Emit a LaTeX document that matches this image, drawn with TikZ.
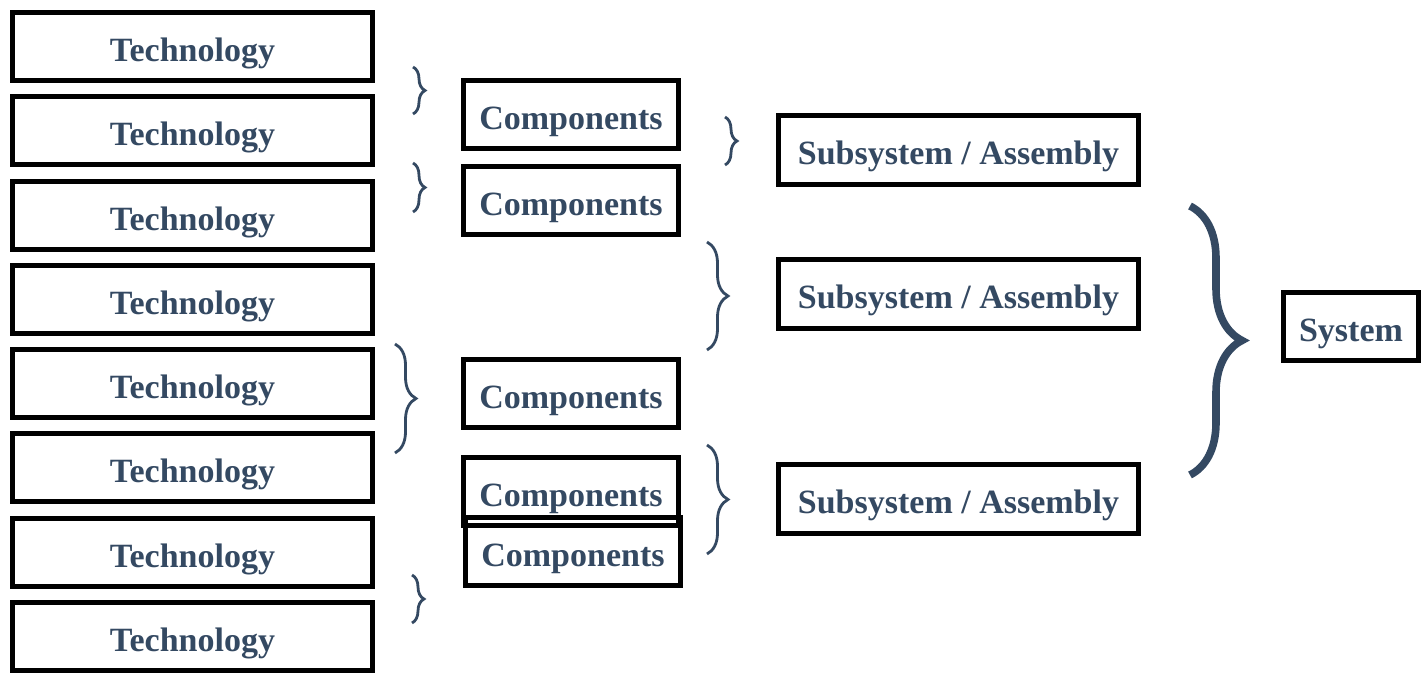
\documentclass[tikz,border=0pt]{standalone}
\usepackage{fontspec}
\setmainfont{Liberation Serif}
\usetikzlibrary{decorations.pathreplacing}
\definecolor{txt}{RGB}{52,73,98}
\begin{document}
\begin{tikzpicture}[x=0.5pt,y=-0.5pt,
  box/.style={draw=black,line width=2.5pt,inner sep=0pt,text height=17pt,text depth=2pt,font=\fontsize{17}{20}\selectfont\bfseries,text=txt},
  tech/.style={box,minimum width=180pt,minimum height=34pt},
  comp/.style={box,minimum width=107.5pt,minimum height=34pt},
  sub/.style={box,minimum width=180pt,minimum height=34.5pt},
  sys/.style={box,minimum width=67.5pt,minimum height=34pt},
  brc/.style={draw=txt,line width=1.4pt,decorate,decoration={brace,amplitude=#1,aspect=0.5}},
]
\useasboundingbox (0,0) rectangle (1421,673);
\foreach \i in {0,...,7}{
  \node[tech] (t\i) at (192.5,{46.5+84.3*\i}) {Technology};
}
\node[comp] (c1) at (571,114.5) {Components};
\node[comp] (c2) at (571,200.5) {Components};
\node[comp] (c3) at (571,394) {Components};
\node[comp] (c5) at (573,551.5) {Components};
\node[comp] (c4) at (571,491.5) {Components};
\node[sub] (s1) at (958.5,150) {Subsystem / Assembly};
\node[sub] (s2) at (958.5,294) {Subsystem / Assembly};
\node[sub] (s3) at (958.5,499) {Subsystem / Assembly};
\node[sys] (sy) at (1351,326.5) {System};
\draw[brc=6pt] (413,67) -- (413,114);
\draw[brc=6pt] (413,163) -- (413,212);
\draw[brc=6pt] (725,117) -- (725,165);
\draw[brc=10.5pt] (707,242) -- (707,350);
\draw[brc=10.5pt] (395,344) -- (395,453);
\draw[brc=10.5pt] (707,445) -- (707,554);
\draw[brc=6pt] (412,575) -- (412,623);
\draw[brc=26pt,line width=3.8pt] (1190,206) -- (1190,475);
\end{tikzpicture}
\end{document}
